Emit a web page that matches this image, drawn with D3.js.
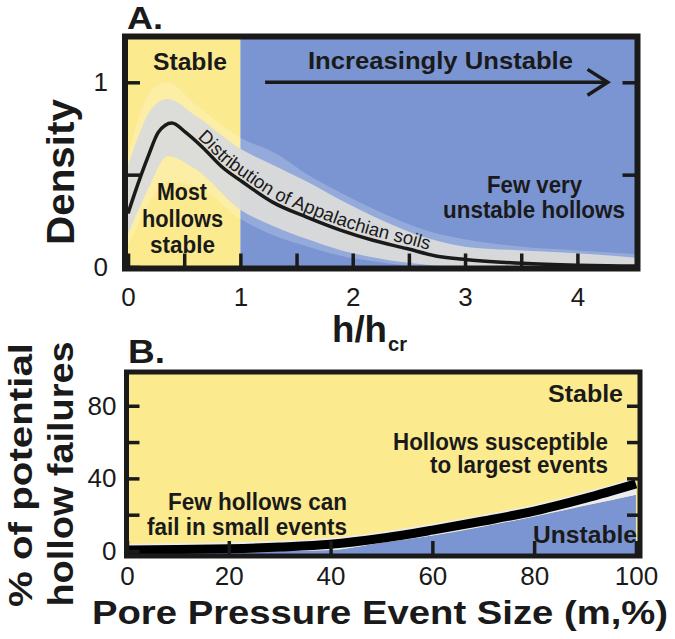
<!DOCTYPE html>
<html><head><meta charset="utf-8">
<script src="https://cdn.jsdelivr.net/npm/d3@7"></script>
<style>html,body{margin:0;padding:0;background:#fff;} svg{display:block;font-family:"Liberation Sans", Arial, Helvetica, sans-serif;}</style>
</head><body><svg id="c" width="675" height="639"></svg>
<script>
// ---------- Panel A data ----------
const hRatio      = [0,0.06,0.18,0.27,0.39,0.51,0.66,0.84,1.02,1.29,1.59,1.89,2.18,2.48,2.74,3.02,3.51,4.0,4.52];
const meanDensity = [0.29,0.40,0.60,0.73,0.78,0.73,0.65,0.54,0.46,0.35,0.27,0.20,0.145,0.10,0.06,0.04,0.02,0.01,0.005];
const bandX         = [0,0.1,0.2,0.35,0.6,1.0,1.3,1.6,1.9,2.2,2.7,3.0,3.5,4.0,4.52];
const bandInnerHigh = [0.55,0.72,0.85,0.91,0.82,0.64,0.55,0.46,0.36,0.27,0.15,0.11,0.09,0.075,0.05];
const bandInnerLow  = [0.18,0.32,0.45,0.60,0.53,0.31,0.22,0.15,0.09,0.05,0.01,0,0,0,0];
const bandOuterHigh = [0.6,0.82,0.95,1.0,0.88,0.70,0.62,0.50,0.40,0.31,0.19,0.15,0.11,0.09,0.07];
const bandOuterLow  = [0.12,0.24,0.36,0.46,0.44,0.26,0.17,0.11,0.06,0.03,0,0,0,0,0];
const aXTicks = [0,0.5,1,1.5,2,2.5,3,3.5,4];
const aYTicks = [0,0.5,1];
const stableLimit = 1;

// ---------- Panel B data ----------
const eventSize = [0,10,20,30,40,50,60,70,80,90,100];
const failPct   = [0.5,0.8,1.3,2.2,3.7,7.0,11.5,16.5,22,29,37];
const failLow   = [0,0,0,0,0.5,4.5,8.5,13.5,19,25,31];
const failHigh  = failPct.map(v => v + 3.5);
const bXTicks = [0,20,40,60,80,100];
const bYTicks = [0,20,40,60,80];

const YELLOW = "#fcea8f", BLUE = "#7a95d1", INK = "#1a1a1a";
const svg = d3.select("#c");

function label(g, x, y, str, size, weight, len, anchor) {
  const t = g.append("text").attr("x", x).attr("y", y).text(str)
    .attr("font-size", size).attr("font-weight", weight || "normal")
    .attr("fill", INK).attr("text-anchor", anchor || "start");
  if (len) t.attr("textLength", len).attr("lengthAdjust", "spacingAndGlyphs");
  return t;
}
function styleAxis(sel, w) {
  sel.select(".domain").remove();
  sel.selectAll(".tick line").attr("stroke", INK).attr("stroke-width", w);
  sel.selectAll(".tick text").attr("font-size", 26).attr("fill", INK)
     .attr("font-family", '"Liberation Sans", Arial, sans-serif');
}

// ================= PANEL A =================
const xA = d3.scaleLinear().domain([-0.027, 4.535]).range([125, 637.5]);
const yA = d3.scaleLinear().domain([-0.008, 1.248]).range([268.5, 36.5]);
const gA = svg.append("g");
const ax0 = -0.027, ax1 = 4.535, ay0 = -0.008, ay1 = 1.248;

gA.append("clipPath").attr("id","clipA").append("rect")
  .attr("x", xA(ax0)).attr("y", yA(ay1)).attr("width", xA(ax1)-xA(ax0)).attr("height", yA(ay0)-yA(ay1));
gA.append("rect").attr("x", xA(ax0)).attr("y", yA(ay1)).attr("width", xA(stableLimit)-xA(ax0))
  .attr("height", yA(ay0)-yA(ay1)).attr("fill", YELLOW);
gA.append("rect").attr("x", xA(stableLimit)).attr("y", yA(ay1)).attr("width", xA(ax1)-xA(stableLimit))
  .attr("height", yA(ay0)-yA(ay1)).attr("fill", BLUE);

const bandOuter = bandX.map((x,i)=>({x, lo: bandOuterLow[i], hi: bandOuterHigh[i]}));
const bandInner = bandX.map((x,i)=>({x, lo: bandInnerLow[i], hi: bandInnerHigh[i]}));
const areaA = d3.area().x(d=>xA(d.x)).y0(d=>yA(d.lo)).y1(d=>yA(d.hi)).curve(d3.curveMonotoneX);
const bandG = gA.append("g").attr("clip-path","url(#clipA)");
bandG.append("path").datum(bandOuter).attr("d", areaA).attr("fill", "#ffffff").attr("opacity", 0.2);
bandG.append("path").datum(bandInner).attr("d", areaA).attr("fill", "#dadada").attr("opacity", 0.95);

const meanPts = hRatio.map((x,i)=>[x, meanDensity[i]]);
const lineA = d3.line().x(d=>xA(d[0])).y(d=>yA(d[1])).curve(d3.curveMonotoneX);
bandG.append("path").datum(meanPts).attr("d", lineA).attr("fill","none").attr("stroke", INK).attr("stroke-width", 3.5);

// text along the curve
const lineText = d3.line().x(d=>xA(d[0])).y(d=>yA(d[1]) - 4.5).curve(d3.curveMonotoneX);
const tp = gA.append("path").attr("id","curveText").datum(meanPts).attr("d", lineText).attr("fill","none").attr("stroke","none");
const pathNode = tp.node();
let startLen = 0;
const total = pathNode.getTotalLength();
for (let L = 0; L < total; L += 0.5) { if (pathNode.getPointAtLength(L).x >= 197) { startLen = L; break; } }
const ctext = gA.append("text").attr("font-size", 18.5).attr("fill", INK);
ctext.append("textPath").attr("href", "#curveText").attr("startOffset", startLen)
  .text("Distribution of Appalachian soils");

// axes A
gA.append("g").attr("transform", `translate(${xA(ax0)},0)`)
  .call(d3.axisLeft(yA).tickValues(aYTicks).tickSizeInner(-15).tickSizeOuter(0).tickPadding(17)
    .tickFormat(d => d === 0.5 ? "" : d3.format("d")(d)))
  .call(s => styleAxis(s, 3.5));
gA.append("g").attr("transform", `translate(${xA(ax1)},0)`)
  .call(d3.axisRight(yA).tickValues([0.5,1]).tickSizeInner(-15).tickSizeOuter(0).tickFormat(""))
  .call(s => styleAxis(s, 3.5));
gA.append("g").attr("transform", `translate(0,${yA(ay0)})`)
  .call(d3.axisBottom(xA).tickValues(aXTicks).tickSizeInner(-15).tickSizeOuter(0).tickPadding(19)
    .tickFormat(d => Number.isInteger(d) ? d3.format("d")(d) : ""))
  .call(s => styleAxis(s, 3.5));

gA.append("rect").attr("x", xA(ax0)).attr("y", yA(ay1)).attr("width", xA(ax1)-xA(ax0)).attr("height", yA(ay0)-yA(ay1))
  .attr("fill","none").attr("stroke", INK).attr("stroke-width", 6);

// arrow
gA.append("line").attr("x1", xA(1.22)).attr("x2", xA(4.27)).attr("y1", yA(1)).attr("y2", yA(1))
  .attr("stroke", INK).attr("stroke-width", 3.5);
gA.append("path").attr("d", `M${xA(4.09)},${yA(1.07)} L${xA(4.27)},${yA(1)} L${xA(4.09)},${yA(0.93)}`)
  .attr("fill","none").attr("stroke", INK).attr("stroke-width", 3.5);

label(gA, 153, 70, "Stable", 23, "bold", 74);
label(gA, 308, 69, "Increasingly Unstable", 23, "bold", 265);
label(gA, 157, 200, "Most", 23, "bold", 50);
label(gA, 142, 227, "hollows", 23, "bold", 81);
label(gA, 150, 253, "stable", 23, "bold", 65);
label(gA, 487, 193, "Few very", 23, "bold", 95);
label(gA, 443, 218, "unstable hollows", 23, "bold", 182);
label(gA, 127, 29, "A.", 31, "bold", 36);
label(gA, 332, 342, "h/h", 37, "bold", 55);
label(gA, 388, 351, "cr", 21, "bold", 19);
gA.append("text").attr("transform", "translate(74,172) rotate(-90)").attr("text-anchor","middle")
  .attr("font-size", 38).attr("font-weight","bold").attr("fill", INK)
  .attr("textLength", 146).attr("lengthAdjust","spacingAndGlyphs").text("Density");

// ================= PANEL B =================
const xB = d3.scaleLinear().domain([-0.1, 100.8]).range([126.5, 640]);
const yB = d3.scaleLinear().domain([-2.75, 98.6]).range([556, 372]);
const bx0 = -0.1, bx1 = 100.8, by0 = -2.75, by1 = 98.6;
const gB = svg.append("g");
gB.append("clipPath").attr("id","clipB").append("rect")
  .attr("x", xB(bx0)).attr("y", yB(by1)).attr("width", xB(bx1)-xB(bx0)).attr("height", yB(by0)-yB(by1));
gB.append("rect").attr("x", xB(bx0)).attr("y", yB(by1)).attr("width", xB(bx1)-xB(bx0))
  .attr("height", yB(by0)-yB(by1)).attr("fill", YELLOW);
const cB = gB.append("g").attr("clip-path","url(#clipB)");
const failPts = eventSize.map((x,i)=>({x, v: failPct[i], lo: failLow[i], hi: failHigh[i]}));
cB.append("path").datum(failPts)
  .attr("d", d3.area().x(d=>xB(d.x)).y0(yB(by0)).y1(d=>yB(d.lo)).curve(d3.curveMonotoneX))
  .attr("fill", BLUE);
cB.append("path").datum(failPts)
  .attr("d", d3.area().x(d=>xB(d.x)).y0(d=>yB(d.lo)).y1(d=>yB(d.hi)).curve(d3.curveMonotoneX))
  .attr("fill", "#ececec");
cB.append("path").datum(failPts)
  .attr("d", d3.line().x(d=>xB(d.x)).y(d=>yB(d.v)).curve(d3.curveMonotoneX))
  .attr("fill","none").attr("stroke", "#000").attr("stroke-width", 9);

gB.append("g").attr("transform", `translate(${xB(bx0)},0)`)
  .call(d3.axisLeft(yB).tickValues(bYTicks).tickSizeInner(-13).tickSizeOuter(0).tickPadding(10)
    .tickFormat(d => (d === 0 || d === 40 || d === 80) ? d3.format("d")(d) : ""))
  .call(s => styleAxis(s, 3.5));
gB.append("g").attr("transform", `translate(${xB(bx1)},0)`)
  .call(d3.axisRight(yB).tickValues([20,40,60,80]).tickSizeInner(-13).tickSizeOuter(0).tickFormat(""))
  .call(s => styleAxis(s, 3.5));
gB.append("g").attr("transform", `translate(0,${yB(by0)})`)
  .call(d3.axisBottom(xB).tickValues(bXTicks).tickSizeInner(-15).tickSizeOuter(0).tickPadding(11)
    .tickFormat(d3.format("d")))
  .call(s => styleAxis(s, 3.5));
gB.append("rect").attr("x", xB(bx0)).attr("y", yB(by1)).attr("width", xB(bx1)-xB(bx0)).attr("height", yB(by0)-yB(by1))
  .attr("fill","none").attr("stroke", INK).attr("stroke-width", 5);

label(gB, 168, 510, "Few hollows can", 23, "bold", 179);
label(gB, 147, 535, "fail in small events", 23, "bold", 200);
label(gB, 548, 402, "Stable", 23, "bold", 75);
label(gB, 393, 450, "Hollows susceptible", 23, "bold", 215);
label(gB, 430, 473, "to largest events", 23, "bold", 178);
label(gB, 533, 543, "Unstable", 23, "bold", 104);
label(gB, 128, 363, "B.", 33, "bold", 37);
label(gB, 92, 624, "Pore Pressure Event Size (m,%)", 34, "bold", 576);
gB.append("text").attr("transform", "translate(32,475) rotate(-90)").attr("text-anchor","middle")
  .attr("font-size", 33).attr("font-weight","bold").attr("fill", INK)
  .attr("textLength", 264).attr("lengthAdjust","spacingAndGlyphs").text("% of potential");
gB.append("text").attr("transform", "translate(73,474) rotate(-90)").attr("text-anchor","middle")
  .attr("font-size", 35).attr("font-weight","bold").attr("fill", INK)
  .attr("textLength", 265).attr("lengthAdjust","spacingAndGlyphs").text("hollow failures");
</script>
</body></html>
